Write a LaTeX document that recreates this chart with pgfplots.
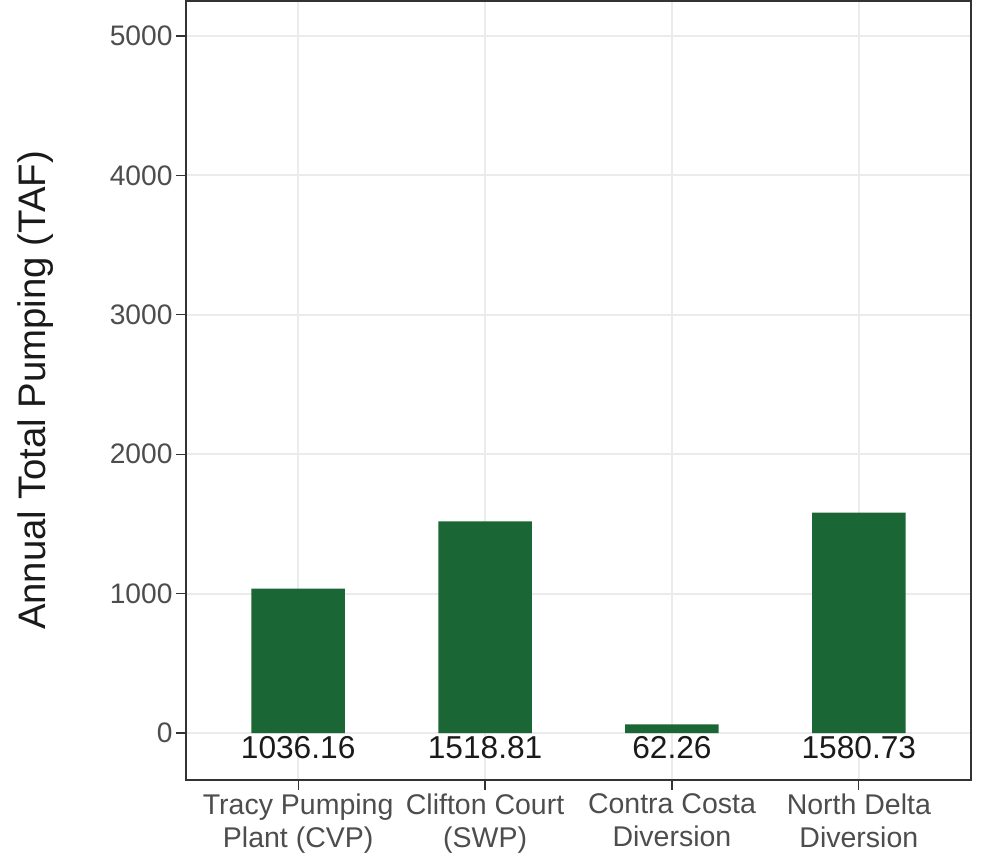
\documentclass[border=0pt]{standalone}
\usepackage{pgfplots}
\pgfplotsset{compat=1.18}
\usepackage{fontspec}
\setmainfont{Liberation Sans}
\definecolor{bargreen}{HTML}{1A6634}
\definecolor{gridgray}{HTML}{EBEBEB}
\definecolor{tickgray}{HTML}{4D4D4D}
\definecolor{bordergray}{HTML}{333333}
\definecolor{textdark}{HTML}{1A1A1A}
\begin{document}
\begin{tikzpicture}[x=1bp,y=1bp]
\useasboundingbox (0,0) rectangle (983,867);
\begin{axis}[
  at={(186bp,87bp)}, anchor=south west,
  scale only axis,
  width=785bp, height=779bp,
  xmin=0.4, xmax=4.6,
  ymin=-337, ymax=5251,
  xtick={1,2,3,4},
  xticklabels={{Tracy Pumping\\Plant (CVP)},{Clifton Court\\(SWP)},{Contra Costa\\Diversion},{North Delta\\Diversion}},
  ytick={0,1000,2000,3000,4000,5000},
  /pgf/number format/assume math mode=true,
  /pgf/number format/1000 sep={},
  xticklabel style={align=center, font=\fontsize{28.6}{33}\selectfont, text=tickgray, yshift=0bp},
  yticklabel style={font=\fontsize{28.3}{33}\selectfont, text=tickgray},
  tick pos=left,
  tick align=outside,
  major tick length=10bp,
  tick style={draw=bordergray, line width=1.2bp},
  grid=major,
  major grid style={draw=gridgray, line width=1.8bp},
  axis line style={draw=bordergray, line width=1.4bp},
  ylabel={Annual Total Pumping (TAF)},
  ylabel style={at={(axis description cs:-0.192,0.5)}, anchor=center, font=\fontsize{38.5}{42}\selectfont, text=textdark},
  axis on top=false,
]
\addplot[ybar, bar width=0.5, bar shift=0pt, fill=bargreen, draw=none] coordinates {
  (1,1036.16) (2,1518.81) (3,62.26) (4,1580.73)
};
\addplot[draw=none, mark=none, nodes near coords, point meta=explicit symbolic,
  every node near coord/.style={anchor=north, inner sep=0pt, yshift=-3.5bp, font=\fontsize{31.8}{35}\selectfont, text=textdark}]
  coordinates {
  (1,0) [1036.16] (2,0) [1518.81] (3,0) [62.26] (4,0) [1580.73]
};
\end{axis}
\end{tikzpicture}
\end{document}
